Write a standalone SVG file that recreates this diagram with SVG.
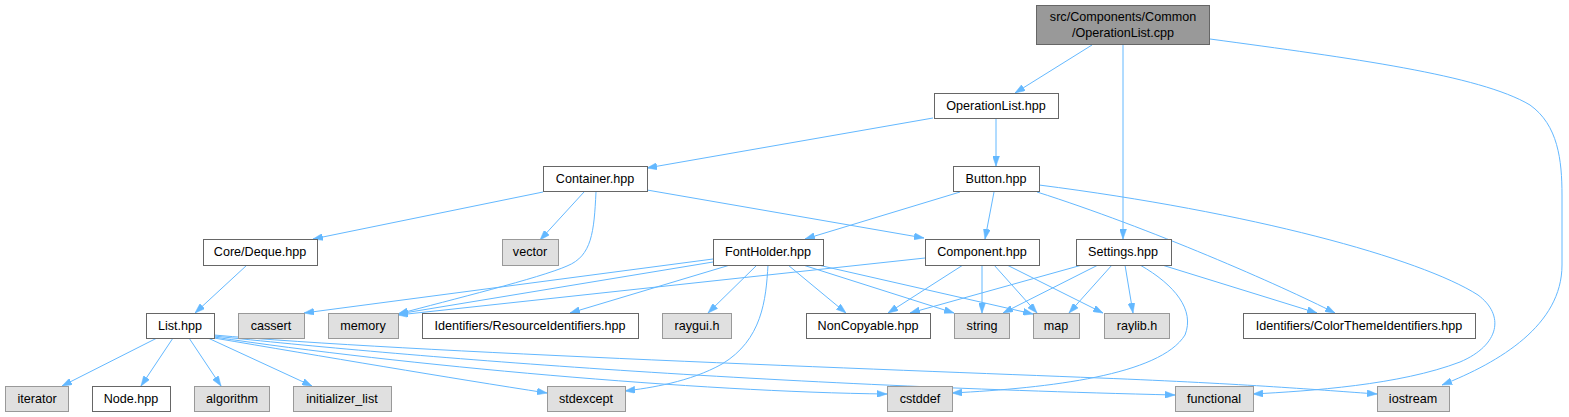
<svg xmlns="http://www.w3.org/2000/svg" width="1569" height="417" viewBox="0 0 1569 417">
<style>
text{font-family:"Liberation Sans",Arial,sans-serif;font-size:12.6px;fill:#000;text-anchor:middle}
.n{fill:#fff;stroke:#666;stroke-width:1}
.x{fill:#e0e0e0;stroke:#999;stroke-width:1}
.r{fill:#999;stroke:#666;stroke-width:1}
#edges path{fill:none;stroke:#63b8ff;stroke-width:1;marker-end:url(#ah)}
</style>
<defs>
<marker id="ah" viewBox="0 0 10 7" refX="10" refY="3.5" markerWidth="10" markerHeight="7" markerUnits="userSpaceOnUse" orient="auto">
<path d="M0,0 L10,3.5 L0,7 z" fill="#63b8ff" stroke="#63b8ff" stroke-width="0.5"/>
</marker>
</defs>
<rect width="1569" height="417" fill="#fff"/>
<g id="edges">
<path d="M1092,45 L1015,93"/>
<path d="M1123,45 L1123,239"/>
<path d="M1210,39 C1350,58 1480,75 1530,105 C1558,125 1562,160 1562,195 L1562,265 C1562,325 1500,362 1442,385"/>
<path d="M933,118 L647,168"/>
<path d="M996,118 L996,166"/>
<path d="M543,192 L313,239"/>
<path d="M584,192 L540,240"/>
<path d="M596,192 C594,232 592,256 567,266 C540,278 450,300 398,314"/>
<path d="M647,190 L924,238"/>
<path d="M960,192 L805,239"/>
<path d="M994,192 L985,239"/>
<path d="M1037,192 C1150,228 1280,285 1335,313"/>
<path d="M1039,185 C1250,212 1420,258 1478,295 C1505,315 1500,345 1460,362 C1400,385 1310,391 1253,394"/>
<path d="M247,265 L195,313"/>
<path d="M157,338 L62,386"/>
<path d="M173,338 L141,386"/>
<path d="M189,338 L221,386"/>
<path d="M208,338 L312,386"/>
<path d="M214,338 C320,356 450,378 547,393"/>
<path d="M214,337 C400,365 700,392 887,394"/>
<path d="M214,336 C400,356 750,385 1175,395"/>
<path d="M214,335 C400,352 900,370 1100,378 C1250,384 1320,390 1377,394"/>
<path d="M713,259 L304,313"/>
<path d="M713,262 L398,314"/>
<path d="M730,265 L570,313"/>
<path d="M757,265 L708,313"/>
<path d="M768,265 C766,300 762,340 722,364 C690,382 650,388 625,391"/>
<path d="M788,265 L846,313"/>
<path d="M803,265 L954,313"/>
<path d="M818,265 L1033,314"/>
<path d="M925,258 L398,315"/>
<path d="M963,265 L888,313"/>
<path d="M982,265 L982,313"/>
<path d="M994,265 L1037,313"/>
<path d="M1007,265 L1103,313"/>
<path d="M1082,265 L910,313"/>
<path d="M1098,265 L1003,313"/>
<path d="M1112,265 L1069,313"/>
<path d="M1125,265 L1133,313"/>
<path d="M1162,265 L1317,313"/>
<path d="M1140,265 C1175,285 1195,310 1185,335 C1160,375 1050,388 952,393"/>
</g>
<g id="root"><rect class="r" x="1036.5" y="5.5" width="173" height="39"/><text x="1123" y="21">src/Components/Common</text><text x="1123" y="37">/OperationList.cpp</text></g>
<g id="operationlist"><rect class="n" x="934.5" y="93.5" width="124" height="25"/><text x="996" y="110">OperationList.hpp</text></g>
<g id="container"><rect class="n" x="543.5" y="166.5" width="104" height="25"/><text x="595" y="183">Container.hpp</text></g>
<g id="button"><rect class="n" x="953.5" y="166.5" width="86" height="25"/><text x="996" y="183">Button.hpp</text></g>
<g id="deque"><rect class="n" x="203.5" y="239.5" width="114" height="26"/><text x="260" y="256">Core/Deque.hpp</text></g>
<g id="vector"><rect class="x" x="502.5" y="239.5" width="56" height="26"/><text x="530" y="256">vector</text></g>
<g id="fontholder"><rect class="n" x="713.5" y="239.5" width="110" height="26"/><text x="768" y="256">FontHolder.hpp</text></g>
<g id="component"><rect class="n" x="925.5" y="239.5" width="114" height="26"/><text x="982" y="256">Component.hpp</text></g>
<g id="settings"><rect class="n" x="1076.5" y="239.5" width="95" height="26"/><text x="1123" y="256">Settings.hpp</text></g>
<g id="list"><rect class="n" x="146.5" y="313.5" width="68" height="25"/><text x="180" y="330">List.hpp</text></g>
<g id="cassert"><rect class="x" x="238.5" y="313.5" width="66" height="25"/><text x="271" y="330">cassert</text></g>
<g id="memory"><rect class="x" x="328.5" y="313.5" width="70" height="25"/><text x="363" y="330">memory</text></g>
<g id="resource"><rect class="n" x="422.5" y="313.5" width="216" height="25"/><text x="530" y="330">Identifiers/ResourceIdentifiers.hpp</text></g>
<g id="raygui"><rect class="x" x="662.5" y="313.5" width="69" height="25"/><text x="697" y="330">raygui.h</text></g>
<g id="noncopyable"><rect class="n" x="806.5" y="313.5" width="124" height="25"/><text x="868" y="330">NonCopyable.hpp</text></g>
<g id="string"><rect class="x" x="954.5" y="313.5" width="55" height="25"/><text x="982" y="330">string</text></g>
<g id="map"><rect class="x" x="1033.5" y="313.5" width="46" height="25"/><text x="1056" y="330">map</text></g>
<g id="raylib"><rect class="x" x="1104.5" y="313.5" width="65" height="25"/><text x="1137" y="330">raylib.h</text></g>
<g id="colortheme"><rect class="n" x="1243.5" y="313.5" width="232" height="25"/><text x="1359" y="330">Identifiers/ColorThemeIdentifiers.hpp</text></g>
<g id="iterator"><rect class="x" x="5.5" y="386.5" width="63" height="25"/><text x="37" y="403">iterator</text></g>
<g id="node"><rect class="n" x="92.5" y="386.5" width="78" height="25"/><text x="131" y="403">Node.hpp</text></g>
<g id="algorithm"><rect class="x" x="194.5" y="386.5" width="75" height="25"/><text x="232" y="403">algorithm</text></g>
<g id="initializer"><rect class="x" x="293.5" y="386.5" width="98" height="25"/><text x="342" y="403">initializer_list</text></g>
<g id="stdexcept"><rect class="x" x="547.5" y="386.5" width="78" height="25"/><text x="586" y="403">stdexcept</text></g>
<g id="cstddef"><rect class="x" x="887.5" y="386.5" width="65" height="25"/><text x="920" y="403">cstddef</text></g>
<g id="functional"><rect class="x" x="1175.5" y="386.5" width="78" height="25"/><text x="1214" y="403">functional</text></g>
<g id="iostream"><rect class="x" x="1377.5" y="386.5" width="72" height="25"/><text x="1413" y="403">iostream</text></g>
</svg>
